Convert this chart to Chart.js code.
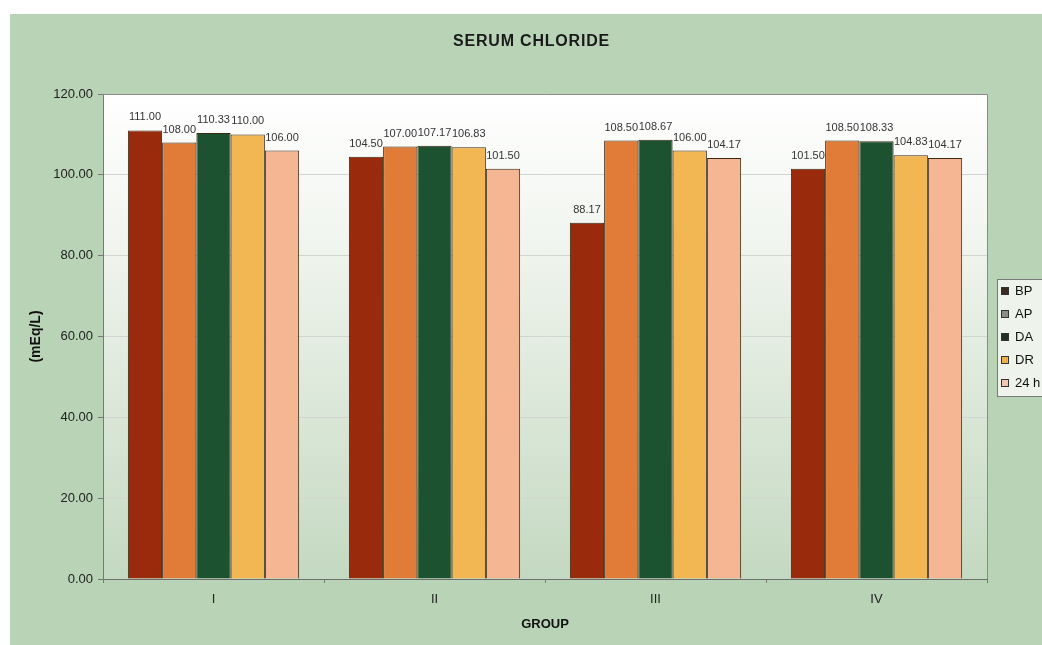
<!DOCTYPE html>
<html>
<head>
<meta charset="utf-8">
<script src="https://cdn.jsdelivr.net/npm/chart.js@4/dist/chart.umd.min.js"></script>
<style>
html,body{margin:0;padding:0;background:#fff;}
#wrap{width:1042px;height:645px;position:relative;}
</style>
</head>
<body>
<div id="wrap"><canvas id="c" width="1042" height="645"></canvas></div>
<script>
const chartTitle = "SERUM CHLORIDE";
const categories = ["I", "II", "III", "IV"];
const seriesNames = ["BP", "AP", "DA", "DR", "24 h"];
const bpValues = [111.00, 104.50, 88.17, 101.50];
const apValues = [108.00, 107.00, 108.50, 108.50];
const daValues = [110.33, 107.17, 108.67, 108.33];
const drValues = [110.00, 106.83, 106.00, 104.83];
const h24Values = [106.00, 101.50, 104.17, 104.17];
const yTicks = [0, 20, 40, 60, 80, 100, 120];
const yAxisTitle = "(mEq/L)";
const xAxisTitle = "GROUP";

const barColors = ["#9a2a0c", "#e07c37", "#1d5230", "#f2b652", "#f5b693"];
const legendSwatch = ["#3a2b22", "#8c8c82", "#22302a", "#f0b048", "#f3c6ae"];
const seriesValues = [bpValues, apValues, daValues, drValues, h24Values];

const FONT = "'Liberation Sans', Arial, sans-serif";

const datasets = seriesNames.map((name, i) => ({
  label: name,
  data: seriesValues[i],
  backgroundColor: barColors[i],
  borderColor: "#3a2a14",
  borderWidth: 1,
  barPercentage: 1.0,
  categoryPercentage: 0.775
}));

const bgPlugin = {
  id: "bg",
  beforeDraw(chart) {
    const ctx = chart.ctx;
    const a = chart.chartArea;
    ctx.save();
    ctx.fillStyle = "#ffffff";
    ctx.fillRect(0, 0, chart.width, chart.height);
    ctx.fillStyle = "#b9d3b6";
    ctx.fillRect(10, 14, chart.width - 10, chart.height - 14);
    const g = ctx.createLinearGradient(0, a.top, 0, a.bottom);
    g.addColorStop(0, "#ffffff");
    g.addColorStop(0.3, "#f1f5ef");
    g.addColorStop(1, "#c4d9c1");
    ctx.fillStyle = g;
    ctx.fillRect(a.left, a.top, a.right - a.left, a.bottom - a.top);
    // title
    ctx.fillStyle = "#1a1a1a";
    ctx.font = "bold 16px " + FONT;
    try { ctx.letterSpacing = "0.8px"; } catch (e) {}
    ctx.textAlign = "left";
    ctx.textBaseline = "middle";
    ctx.fillText(chartTitle, 453, 42);
    try { ctx.letterSpacing = "0px"; } catch (e) {}
    ctx.restore();
  },
  afterDatasetsDraw(chart) {
    const ctx = chart.ctx;
    ctx.save();
    ctx.font = "11px " + FONT;
    ctx.fillStyle = "#333333";
    ctx.textAlign = "center";
    ctx.textBaseline = "middle";
    chart.data.datasets.forEach((ds, i) => {
      const meta = chart.getDatasetMeta(i);
      meta.data.forEach((bar, j) => {
        ctx.fillText(ds.data[j].toFixed(2), bar.x, bar.y - 13);
      });
    });
    ctx.restore();
  },
  afterDraw(chart) {
    const ctx = chart.ctx;
    const a = chart.chartArea;
    ctx.save();
    // plot border (top & right)
    ctx.strokeStyle = "#8a8a8a";
    ctx.lineWidth = 1;
    ctx.beginPath();
    ctx.moveTo(a.left, a.top + 0.5);
    ctx.lineTo(a.right + 0.5, a.top + 0.5);
    ctx.lineTo(a.right + 0.5, a.bottom);
    ctx.stroke();
    // legend
    const lx = 997, ly = 279, lw = 60, lh = 117;
    ctx.fillStyle = "#eef3ec";
    ctx.fillRect(lx, ly, lw, lh);
    ctx.strokeStyle = "#7a7a7a";
    ctx.strokeRect(lx + 0.5, ly + 0.5, lw, lh);
    ctx.font = "13px " + FONT;
    ctx.textAlign = "left";
    ctx.textBaseline = "middle";
    chart.data.datasets.forEach((ds, i) => {
      const y = 291 + i * 23;
      ctx.fillStyle = legendSwatch[i];
      ctx.fillRect(1001, y - 4, 8, 8);
      ctx.strokeStyle = "#333";
      ctx.strokeRect(1001.5, y - 3.5, 7, 7);
      ctx.fillStyle = "#111";
      ctx.fillText(ds.label, 1015, y);
    });
    ctx.restore();
  }
};

new Chart(document.getElementById("c"), {
  type: "bar",
  data: { labels: categories, datasets: datasets },
  plugins: [bgPlugin],
  options: {
    responsive: false,
    animation: false,
    devicePixelRatio: 1,
    layout: { padding: { top: 94, right: 55, bottom: 0, left: 0 } },
    plugins: { legend: { display: false }, title: { display: false }, tooltip: { enabled: false } },
    scales: {
      x: {
        afterFit(scale) { scale.height = 66; },
        grid: { display: true, drawOnChartArea: false, drawTicks: true, tickLength: 4, color: "#777", offset: true },
        border: { display: true, color: "#6e6e6e", width: 1 },
        ticks: { color: "#222", font: { family: FONT, size: 13 }, padding: 9 },
        title: { display: true, text: xAxisTitle, color: "#111", font: { family: FONT, size: 13, weight: "bold" }, padding: { top: 0, bottom: 13 } }
      },
      y: {
        min: 0, max: 120,
        afterFit(scale) { scale.width = 103; },
        afterBuildTicks(scale) { scale.ticks = yTicks.map(v => ({ value: v })); },
        grid: { color: "#d2d6d0", tickColor: "#777", tickLength: 5, drawTicks: true },
        border: { display: true, color: "#777", width: 1 },
        ticks: { color: "#222", font: { family: FONT, size: 13 }, padding: 5, callback: v => Number(v).toFixed(2) },
        title: { display: true, text: yAxisTitle, color: "#111", font: { family: FONT, size: 14, weight: "bold" }, padding: { top: 28, bottom: 0 } }
      }
    }
  }
});
</script>
</body>
</html>
